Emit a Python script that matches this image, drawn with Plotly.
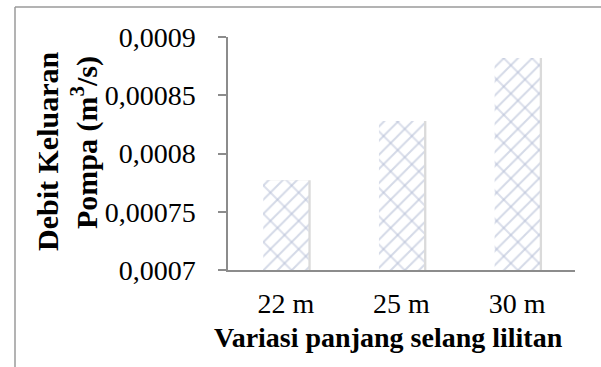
import plotly.graph_objects as go

categories = ["22 m", "25 m", "30 m"]
debit = [0.000777, 0.000828, 0.000882]
y_tick_vals = [0.0007, 0.00075, 0.0008, 0.00085, 0.0009]
y_tick_text = ["0,0007", "0,00075", "0,0008", "0,00085", "0,0009"]
y_title_lines = ["Debit Keluaran", "Pompa (m<sup>3</sup>/s)"]
x_title = "Variasi panjang selang lilitan"

FONT = "Liberation Serif, Times New Roman, serif"
BW = 0.39

fig = go.Figure()
# soft shadow on the right side of each bar
fig.add_trace(go.Bar(
    x=categories, y=debit, width=BW, offset=-BW / 2 + 0.02,
    marker=dict(color="#dadada", line=dict(width=0)), hoverinfo="skip",
))
fig.add_trace(go.Bar(
    x=categories, y=debit, width=BW, offset=-BW / 2,
    marker=dict(color="white", line=dict(width=0),
                pattern=dict(shape="/", fgcolor="#a9b4cf", bgcolor="white",
                             size=10, solidity=0.2)),
))
fig.add_trace(go.Bar(
    x=categories, y=debit, width=BW, offset=-BW / 2,
    marker=dict(color="rgba(0,0,0,0)", line=dict(width=0),
                pattern=dict(shape="\\", fgcolor="#b7c0d7",
                             bgcolor="rgba(0,0,0,0)", fillmode="overlay",
                             size=20, solidity=0.1)),
    hoverinfo="skip",
))

L, R, T, B = 228, 26, 37, 97
W, H = 601, 367
pw, ph = W - L - R, H - T - B

def px(x):
    return (x - L) / pw

def py(y):
    return (H - B - y) / ph

fig.update_layout(
    width=W, height=H,
    margin=dict(l=L, r=R, t=T, b=B, pad=0),
    paper_bgcolor="white", plot_bgcolor="white",
    showlegend=False,
    barmode="overlay",
    font=dict(family=FONT, size=28, color="black"),
    xaxis=dict(showline=True, linecolor="#8c8c8c", linewidth=1.5,
               ticks="", showgrid=False, tickfont=dict(size=28),
               ticklabelstandoff=8),
    yaxis=dict(range=[0.0007, 0.0009], showline=True, linecolor="#8c8c8c",
               linewidth=1.5, ticks="outside", ticklen=8, tickcolor="#8c8c8c",
               tickwidth=1.5, showgrid=False, tickvals=y_tick_vals,
               ticktext=y_tick_text, tickfont=dict(size=28),
               ticklabelstandoff=17, zeroline=False),
    shapes=[
        dict(type="line", xref="paper", yref="paper",
             x0=px(15), x1=px(601), y0=py(7), y1=py(7),
             line=dict(color="#9a9a9a", width=1.5)),
        dict(type="line", xref="paper", yref="paper",
             x0=px(15), x1=px(15), y0=py(7), y1=py(367),
             line=dict(color="#9a9a9a", width=1.5)),
    ],
    annotations=[
        dict(text="<b>" + y_title_lines[0] + "</b>",
             textangle=-90, xref="paper", yref="paper", x=px(47), y=py(151),
             showarrow=False, font=dict(size=30, family=FONT),
             xanchor="center", yanchor="middle"),
        dict(text="<b>" + y_title_lines[1] + "</b>",
             textangle=-90, xref="paper", yref="paper", x=px(84), y=py(143),
             showarrow=False, font=dict(size=30, family=FONT),
             xanchor="center", yanchor="middle"),
        dict(text="<b>" + x_title + "</b>",
             xref="paper", yref="paper", x=px(388), y=py(337),
             showarrow=False, font=dict(size=28, family=FONT),
             xanchor="center", yanchor="middle"),
    ],
)

fig.write_html("out.html", config={"displayModeBar": False},
               post_script="document.body.style.margin='0';")
